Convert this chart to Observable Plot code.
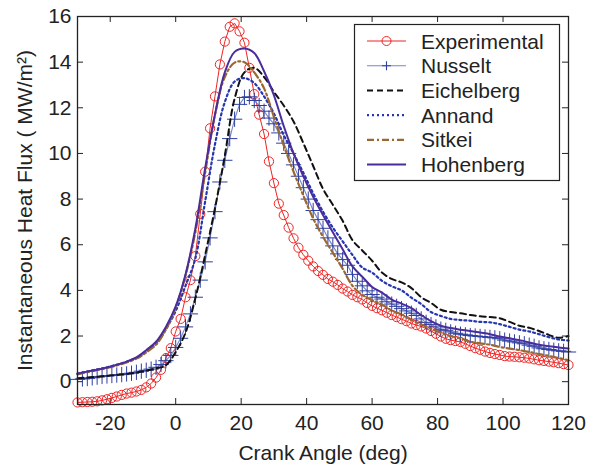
<!DOCTYPE html>
<html><head><meta charset="utf-8">
<script src="https://cdn.jsdelivr.net/npm/d3@7"></script>
<script src="https://cdn.jsdelivr.net/npm/@observablehq/plot@0.6"></script>
<style>body{margin:0;background:#fff} svg{display:block}</style>
</head><body><div id="chart"></div>
<script>
// Crank angle samples (deg) for measured / Nusselt series (markers)
const crankAngleFine = [
-30,-28.5,-27,-25.5,-24,-22.5,-21,-19.5,-18,-16.5,
-15,-13.5,-12,-10.5,-9,-7.5,-6,-4.5,-3,-1.5,
0,1.5,3,4.5,6,7.5,9,10.5,12,13.5,
15,16.5,18,19.5,21,22.5,24,25.5,27,28.5,
30,31.5,33,34.5,36,37.5,39,40.5,42,43.5,
45,46.5,48,49.5,51,52.5,54,55.5,57,58.5,
60,61.5,63,64.5,66,67.5,69,70.5,72,73.5,
75,76.5,78,79.5,81,82.5,84,85.5,87,88.5,
90,91.5,93,94.5,96,97.5,99,100.5,102,103.5,
105,106.5,108,109.5,111,112.5,114,115.5,117,118.5,
120];
const experimental = [
-0.91,-0.9,-0.89,-0.88,-0.86,-0.82,-0.77,-0.71,-0.65,-0.58,
-0.52,-0.48,-0.43,-0.36,-0.25,-0.08,0.18,0.52,1.03,1.47,
2.2,2.75,3.7,4.45,5.5,7.35,9.2,11.1,12.5,13.9,
14.9,15.55,15.7,15.35,14.85,13.75,12.6,11.7,10.85,9.65,
8.7,7.8,7.3,6.75,6.28,5.87,5.56,5.3,5.05,4.85,
4.68,4.5,4.38,4.24,4.08,3.95,3.8,3.7,3.6,3.45,
3.32,3.22,3.13,3.02,2.92,2.83,2.74,2.65,2.55,2.48,
2.42,2.33,2.22,2.1,1.98,1.88,1.82,1.78,1.74,1.66,
1.56,1.47,1.4,1.32,1.26,1.21,1.17,1.12,1.1,1.09,
1.07,1.05,1.02,0.98,0.94,0.91,0.88,0.85,0.81,0.77,
0.73];
const nusselt = [
0.1,0.12,0.14,0.17,0.2,0.23,0.25,0.27,0.29,0.31,
0.34,0.37,0.41,0.46,0.5,0.55,0.63,0.75,0.92,1.15,
1.5,1.9,2.4,2.97,3.7,4.45,5.25,6.3,7.45,8.75,
9.7,10.65,11.5,12.15,12.45,12.48,12.32,12.1,11.85,11.55,
11.3,10.9,10.45,10.0,9.5,9.0,8.5,8.0,7.5,7.1,
6.72,6.3,5.95,5.6,5.35,5.1,4.7,4.4,4.2,3.98,
3.82,3.7,3.62,3.5,3.4,3.3,3.2,3.1,3.0,2.9,
2.75,2.6,2.5,2.4,2.3,2.25,2.18,2.12,2.08,2.05,
2.02,2.0,1.98,1.96,1.94,1.92,1.88,1.82,1.78,1.74,
1.7,1.66,1.6,1.55,1.48,1.44,1.41,1.38,1.35,1.33,
1.3];

// Crank angle samples (deg) for the model curves
const crankAngleModel = [
-30,-27,-24,-21,-18,-15,-12,-9,-6,-3,
0,3,6,9,12,15,18,21,24,27,
30,33,36,39,42,45,48,51,54,57,
60,63,66,69,72,75,78,81,84,87,
90,93,96,99,102,105,108,111,114,117,
120];
const eichelberg = [
0.15,0.18,0.22,0.26,0.3,0.34,0.4,0.48,0.58,0.72,
1.3,2.15,3.65,5.55,7.6,9.9,12.4,13.55,13.75,13.35,
12.7,12.1,11.4,10.45,9.45,8.45,7.75,7.05,6.2,5.75,
5.3,4.78,4.5,4.35,4.1,3.7,3.45,3.15,3.05,3.0,
2.92,2.87,2.83,2.78,2.62,2.45,2.36,2.22,2.05,1.92,
2.0];
const annand = [
0.35,0.45,0.54,0.63,0.74,0.87,1.04,1.32,1.68,2.3,
3.1,4.2,5.4,7.9,10.4,12.25,13.15,13.3,13.08,12.5,
11.75,10.8,10.0,9.15,8.25,7.45,6.75,6.15,5.55,5.0,
4.78,4.42,4.18,4.0,3.68,3.4,3.05,2.88,2.75,2.7,
2.67,2.62,2.6,2.52,2.4,2.28,2.2,2.08,1.95,1.85,
1.8];
const sitkei = [
0.32,0.42,0.51,0.6,0.71,0.84,1.01,1.28,1.62,2.28,
3.25,4.65,6.55,9.15,11.7,13.35,13.98,14.0,13.55,12.85,
11.6,10.35,9.2,8.15,7.15,6.35,5.65,4.95,4.2,3.8,
3.58,3.38,3.12,2.95,2.7,2.5,2.32,2.14,2.0,1.9,
1.75,1.68,1.62,1.52,1.45,1.38,1.3,1.21,1.13,1.04,
0.94];
const hohenberg = [
0.35,0.44,0.52,0.62,0.74,0.88,1.06,1.38,1.75,2.4,
3.3,4.7,6.7,9.35,11.7,13.55,14.45,14.6,14.4,13.6,
12.55,11.2,10.0,9.0,8.1,7.3,6.55,5.8,5.05,4.6,
4.15,3.9,3.6,3.42,3.22,2.92,2.65,2.45,2.35,2.28,
2.22,2.15,2.08,1.98,1.9,1.82,1.72,1.62,1.55,1.5,
1.45];

const xTicks = [-20,0,20,40,60,80,100,120];
const yTicks = [0,2,4,6,8,10,12,14,16];
const seriesNames = ["Experimental","Nusselt","Eichelberg","Annand","Sitkei","Hohenberg"];
const xLabel = "Crank Angle (deg)";
const yLabel = "Instantaneous Heat Flux ( MW/m\u00B2)";

const W = 594, H = 465, mL = 77, mR = 26, mT = 16, mB = 61;
const plotW = W - mL - mR, plotH = H - mT - mB;
const FONT = "'Liberation Sans', Arial, Helvetica, sans-serif";
const INK = "#222";

const styles = [
  {stroke: "#f02424", width: 1, dash: null, marker: "circle"},
  {stroke: "#7585cc", width: 1.1, dash: null, marker: "plus", markerStroke: "#2f3fa0"},
  {stroke: "#111111", width: 2, dash: "6,4", marker: null},
  {stroke: "#2536b0", width: 2.2, dash: "2,3", marker: null},
  {stroke: "#9a6830", width: 2.2, dash: "7,3,2,3", marker: null},
  {stroke: "#4a2d9c", width: 2, dash: null, marker: null}
];

const toRows = (ang, vals) => ang.map((a, i) => ({a, q: vals[i]}));
const expRows = toRows(crankAngleFine, experimental);
const nusRows = toRows(crankAngleFine, nusselt);
const modelRows = [eichelberg, annand, sitkei, hohenberg].map(v => toRows(crankAngleModel, v));

const modelMarks = modelRows.map((rows, k) => {
  const s = styles[k + 2];
  return Plot.line(rows, {x: "a", y: "q", stroke: s.stroke, strokeWidth: s.width,
    strokeDasharray: s.dash, curve: "catmull-rom"});
});

const fmt = d => String(d);

const chart = Plot.plot({
  width: W, height: H,
  marginLeft: mL, marginRight: mR, marginTop: mT, marginBottom: mB,
  style: {fontFamily: FONT, fontSize: "21px", background: "white", color: INK},
  x: {domain: [-30, 120]},
  y: {domain: [-1, 16]},
  marks: [
    Plot.axisX(xTicks, {tickSize: 0, tickPadding: 11, label: null, fontSize: 21, fill: INK, tickFormat: fmt}),
    Plot.axisY(yTicks, {tickSize: 0, tickPadding: 6, label: null, fontSize: 21, fill: INK, tickFormat: fmt}),
    Plot.tickX(xTicks, {x: d => d, insetBottom: plotH - 6, stroke: INK}),
    Plot.tickX(xTicks, {x: d => d, insetTop: plotH - 6, stroke: INK}),
    Plot.tickY(yTicks, {y: d => d, insetRight: plotW - 6, stroke: INK}),
    Plot.tickY(yTicks, {y: d => d, insetLeft: plotW - 6, stroke: INK}),
    Plot.line(expRows, {x: "a", y: "q", stroke: styles[0].stroke, strokeWidth: 1}),
    Plot.dot(expRows, {x: "a", y: "q", r: 4.6, stroke: styles[0].stroke, fill: "none", strokeWidth: 1}),
    Plot.line(nusRows, {x: "a", y: "q", stroke: styles[1].stroke, strokeWidth: styles[1].width}),
    Plot.dot(nusRows, {x: "a", y: "q", symbol: "plus", r: 5, stroke: styles[1].markerStroke, strokeWidth: 1}),
    ...modelMarks,
    Plot.frame({stroke: INK, strokeWidth: 1.3}),
    Plot.text([xLabel], {frameAnchor: "bottom", dy: 41, lineAnchor: "top", textAnchor: "middle", fontSize: 21, fill: INK, text: d => d}),
    Plot.text([yLabel], {frameAnchor: "left", dx: -52, rotate: -90, textAnchor: "middle", lineAnchor: "middle", fontSize: 21, fill: INK, text: d => d})
  ]
});
document.getElementById("chart").appendChild(chart);

// Legend (inside the axes, top-right)
const svg = d3.select(chart);
const lg = svg.append("g").attr("font-family", FONT).attr("font-size", 21)
  .attr("fill", INK).attr("text-anchor", "start");
lg.append("rect").attr("x", 354.5).attr("y", 24.5).attr("width", 205).attr("height", 156)
  .attr("fill", "white").attr("stroke", INK).attr("stroke-width", 1.2);
seriesNames.forEach((name, i) => {
  const s = styles[i];
  const y = 41 + i * 24.7;
  lg.append("line").attr("x1", 367).attr("x2", 406).attr("y1", y).attr("y2", y)
    .attr("stroke", s.stroke).attr("stroke-width", s.width)
    .attr("stroke-dasharray", s.dash);
  if (s.marker === "circle") {
    lg.append("circle").attr("cx", 386.5).attr("cy", y).attr("r", 4.5)
      .attr("fill", "none").attr("stroke", s.stroke);
  } else if (s.marker === "plus") {
    lg.append("path").attr("d", `M382,${y}H391M386.5,${y - 4.5}V${y + 4.5}`)
      .attr("stroke", s.markerStroke).attr("stroke-width", 1.1).attr("fill", "none");
  }
  lg.append("text").attr("x", 421).attr("y", y).attr("dy", "0.36em")
    .attr("text-anchor", "start").text(name);
});
</script>
</body></html>
